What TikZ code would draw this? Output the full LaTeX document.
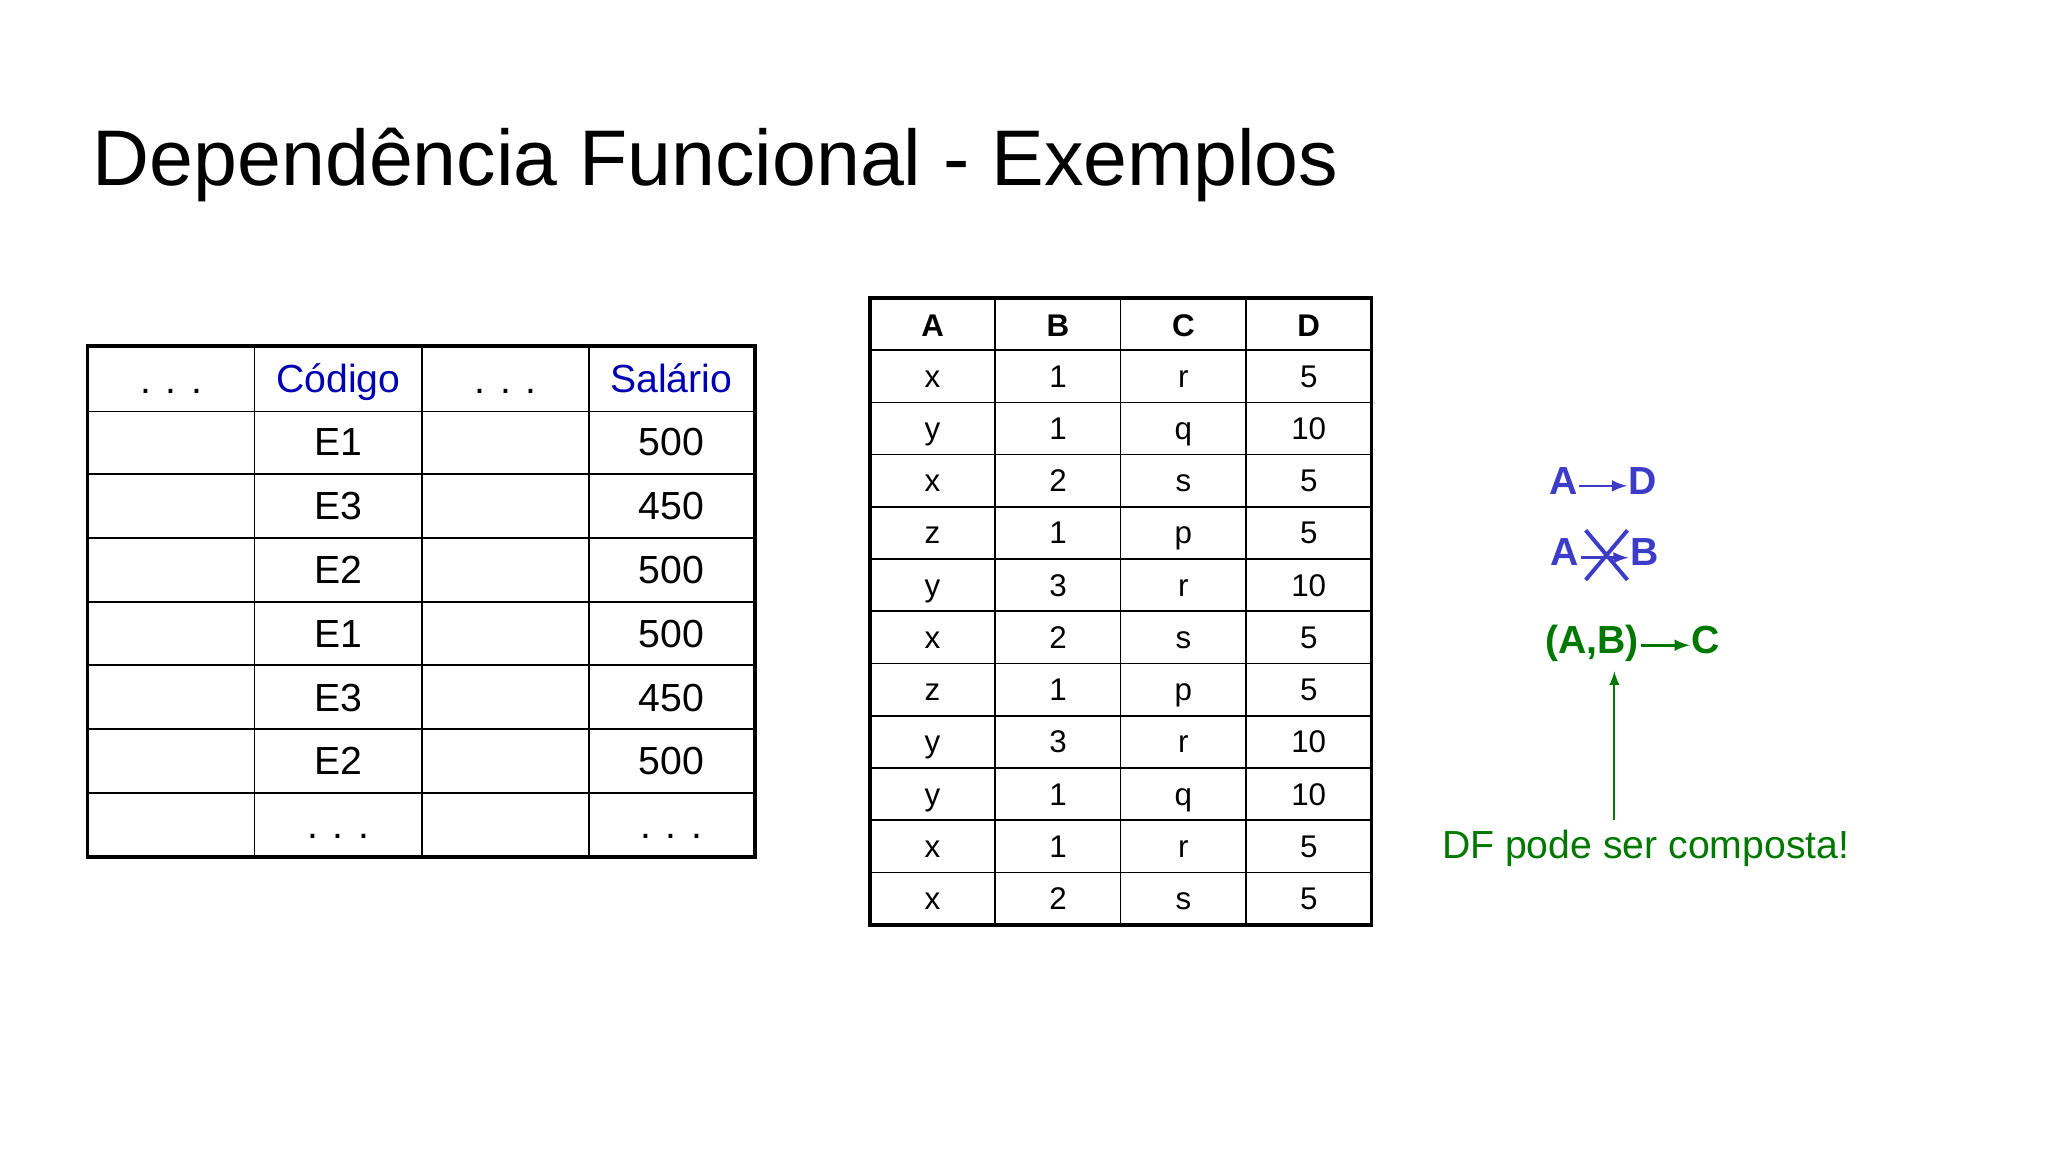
\documentclass[tikz,border=0pt]{standalone}
\usepackage{fontspec}
\setmainfont{Liberation Sans}
\begin{document}
\begin{tikzpicture}[x=0.5pt,y=-0.5pt,
  every node/.style={text height=1.5ex,text depth=0.3ex},
  cellL/.style={font=\fontsize{15}{18}\selectfont},
  cellR/.style={font=\fontsize{12}{14}\selectfont},
  hdr/.style={font=\fontsize{12}{14}\selectfont\bfseries},
  fd/.style={font=\fontsize{15}{18}\selectfont\bfseries,inner sep=0.5pt},
  tbl/.style={line width=1.4pt},
  grid/.style={line width=0.6pt}]
\useasboundingbox (0,0) rectangle (1568,882);
\node[anchor=west,font=\fontsize{30.2}{36}\selectfont] (title) at (64,136) {Dependência Funcional - Exemplos};
% left table
\foreach \x in {195,323,451} \draw[grid] (\x,265) -- (\x,656);
\foreach \y in {315,363,412,461,509,558,607} \draw[grid] (67,\y) -- (578,\y);
\draw[tbl] (67,265) rectangle (578,656);
\node[cellL] (lh1) at (131,295) {. . .};
\node[cellL,text=blue!70!black] (lh2) at (259,294) {Código};
\node[cellL] (lh3) at (387,295) {. . .};
\node[cellL,text=blue!70!black] (lh4) at (514,294) {Salário};
\foreach \c/\s [count=\i] in {E1/500,E3/450,E2/500,E1/500,E3/450,E2/500}{
  \node[cellL] (lc\i) at (259,{318+(\i-0.5)*48.9}) {\c};
  \node[cellL] (ls\i) at (514,{318+(\i-0.5)*48.9}) {\s};
}
\node[cellL] (ld1) at (259,636) {. . .};
\node[cellL] (ld2) at (514,636) {. . .};
% right table
\foreach \x in {762,858,954} \draw[grid] (\x,228) -- (\x,708);
\foreach \i in {1,...,11} \draw[grid] (666,{228+\i*40}) -- (1050,{228+\i*40});
\draw[tbl] (666,228) rectangle (1050,708);
\node[hdr] (hA) at (714,251) {A};
\node[hdr] (hB) at (810,251) {B};
\node[hdr] (hC) at (906,251) {C};
\node[hdr] (hD) at (1002,251) {D};
\foreach \a/\b/\c/\d [count=\i] in {x/1/r/5,y/1/q/10,x/2/s/5,z/1/p/5,y/3/r/10,x/2/s/5,z/1/p/5,y/3/r/10,y/1/q/10,x/1/r/5,x/2/s/5}{
  \node[cellR] (ra\i) at (714,{250+\i*40}) {\a};
  \node[cellR] (rb\i) at (810,{250+\i*40}) {\b};
  \node[cellR] (rc\i) at (906,{250+\i*40}) {\c};
  \node[cellR] (rd\i) at (1002,{250+\i*40}) {\d};
}
% annotations
\definecolor{fdblue}{RGB}{60,60,200}
\definecolor{fdgreen}{RGB}{0,120,0}
\node[fd,text=fdblue] (a1) at (1197,372) {A};
\node[fd,text=fdblue] (d1) at (1258,372) {D};
\draw[fdblue,line width=1pt,-latex] (a1.east) -- (d1.west);
\node[fd,text=fdblue] (a2) at (1198,427) {A};
\node[fd,text=fdblue] (b2) at (1259,427) {B};
\draw[fdblue,line width=1pt,-latex] (a2.east) -- (b2.west);
\coordinate (x1) at (1214,406); \coordinate (x2) at (1246,444);
\coordinate (x3) at (1246,406); \coordinate (x4) at (1214,444);
\draw[fdblue,line width=1.5pt] (x1) -- (x2) (x3) -- (x4);
\node[fd,text=fdgreen] (ab) at (1219,494) {(A,B)};
\node[fd,text=fdgreen] (c3) at (1306,494) {C};
\draw[fdgreen,line width=1pt,-latex] (ab.east) -- (c3.west);
\node[text=fdgreen,font=\fontsize{15}{18}\selectfont] (note) at (1260,651) {DF pode ser composta!};
\draw[fdgreen,line width=0.8pt,-latex] (1236,628) -- (1236,514);
\end{tikzpicture}
\end{document}
